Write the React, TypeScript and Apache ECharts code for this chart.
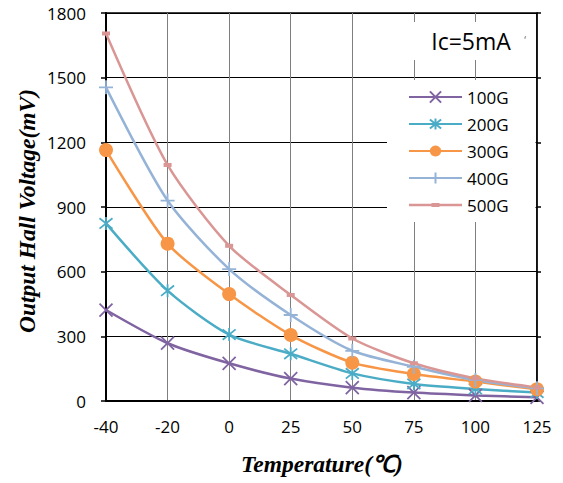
import React, { useEffect, useRef } from "react";
import * as echarts from "echarts";

const temperatures = ["-40", "-20", "0", "25", "50", "75", "100", "125"];
const seriesNames = ["100G", "200G", "300G", "400G", "500G"];
const v100G = [422, 268, 175, 104, 62, 39, 26, 17];
const v200G = [824, 512, 308, 219, 128, 79, 56, 39];
const v300G = [1164, 730, 496, 306, 178, 125, 90, 54];
const v400G = [1455, 930, 612, 399, 233, 159, 97, 59];
const v500G = [1705, 1095, 720, 492, 290, 175, 105, 63];
const yTicks = [0, 300, 600, 900, 1200, 1500, 1800];

const colors = ["#8064A2", "#4BACC6", "#F79646", "#95B3D7", "#D99694"];
const symbols: any[] = [
  "path://M1,1L9,9M9,1L1,9",
  "path://M1,1L9,9M9,1L1,9M5,0L5,10",
  "circle",
  "path://M0,5L10,5M5,0L5,10",
  "rect",
];
const symbolSizes: any[] = [13, 13, 14, 14, [8, 4]];

export default function App() {
  const ref = useRef<HTMLDivElement>(null);
  useEffect(() => {
    if (!ref.current) return;
    const chart = echarts.init(ref.current, null, { renderer: "svg" });
    const font = "Open Sans";
    const allValues = [v100G, v200G, v300G, v400G, v500G];
    const legendData = seriesNames.map((name, i) =>
      i === 4
        ? {
            name,
            icon:
              "path://M0,0M53,14M0,5.75L53,5.75L53,8.25L0,8.25ZM22.5,5L30.5,5L30.5,9L22.5,9Z",
          }
        : { name }
    );
    chart.setOption({
      animation: false,
      backgroundColor: "#fff",
      grid: {
        left: 106,
        right: 26,
        top: 13,
        bottom: 82,
        show: true,
        borderColor: "#000",
        borderWidth: 1.5,
      },
      xAxis: {
        type: "category",
        data: temperatures,
        boundaryGap: false,
        axisLine: { lineStyle: { color: "#000", width: 2 } },
        axisTick: { show: false },
        axisLabel: { color: "#000", fontSize: 17, fontFamily: font, margin: 17 },
        splitLine: { show: true, lineStyle: { color: "#7f7f7f", width: 1 } },
      },
      yAxis: [
        {
          type: "value",
          min: yTicks[0],
          max: yTicks[yTicks.length - 1],
          interval: 300,
          axisLine: { show: true, lineStyle: { color: "#000", width: 2 } },
          axisTick: { show: true, length: 5, lineStyle: { color: "#000", width: 1.5 } },
          axisLabel: {
            color: "#000",
            fontSize: 17,
            fontFamily: font,
            margin: 20,
            formatter: (v: number) => String(v),
          },
          splitLine: { show: true, lineStyle: { color: "#000", width: 1 } },
        },
        {
          type: "value",
          position: "right",
          min: yTicks[0],
          max: yTicks[yTicks.length - 1],
          interval: 300,
          axisLine: { show: true, lineStyle: { color: "#000", width: 1.5 } },
          axisTick: { show: true, length: 4, lineStyle: { color: "#000", width: 1.5 } },
          axisLabel: { show: false },
          splitLine: { show: false },
        },
      ],
      legend: {
        data: legendData,
        orient: "vertical",
        left: 387,
        top: 80,
        backgroundColor: "#fff",
        padding: [8, 27, 8, 21],
        itemWidth: 53,
        itemHeight: 14,
        itemGap: 9,
        textStyle: { color: "#000", fontSize: 17, fontFamily: font, lineHeight: 18 },
      },
      graphic: [
        {
          type: "rect",
          left: 396,
          top: 22,
          shape: { width: 138, height: 38 },
          style: { fill: "#fff" },
          z: 5,
        },
        {
          type: "text",
          x: 471,
          y: 41,
          z: 6,
          style: {
            text: "Ic=5mA",
            fill: "#000",
            font: `23px "${font}"`,
            textAlign: "center",
            textVerticalAlign: "middle",
          },
        },
        {
          type: "text",
          x: 525,
          y: 40,
          z: 6,
          style: {
            text: "‘",
            fill: "#666",
            font: `10px "${font}"`,
            textAlign: "center",
            textVerticalAlign: "middle",
          },
        },
        {
          type: "text",
          x: 27,
          y: 211,
          rotation: Math.PI / 2,
          style: {
            text: "Output Hall Voltage(mV)",
            fill: "#000",
            font: `italic bold 23.5px "Liberation Serif"`,
            textAlign: "center",
            textVerticalAlign: "middle",
          },
        },
        {
          type: "text",
          x: 322,
          y: 464,
          style: {
            text: "Temperature(℃)",
            fill: "#000",
            font: `italic bold 23.5px "Liberation Serif"`,
            textAlign: "center",
            textVerticalAlign: "middle",
          },
        },
      ],
      series: seriesNames.map((name, i) => ({
        name,
        type: "line",
        data: allValues[i],
        smooth: 0.25,
        clip: false,
        symbol: symbols[i],
        symbolSize: symbolSizes[i],
        showAllSymbol: true,
        lineStyle: { color: colors[i], width: 2.5 },
        itemStyle: {
          color: colors[i],
          borderColor: colors[i],
          borderWidth: i === 2 || i === 4 ? 0 : 1.8,
        },
        z: 3,
      })),
    });
    return () => chart.dispose();
  }, []);
  return (
    <div
      ref={ref}
      style={{ position: "absolute", left: 0, top: 0, width: 563, height: 483 }}
    />
  );
}
